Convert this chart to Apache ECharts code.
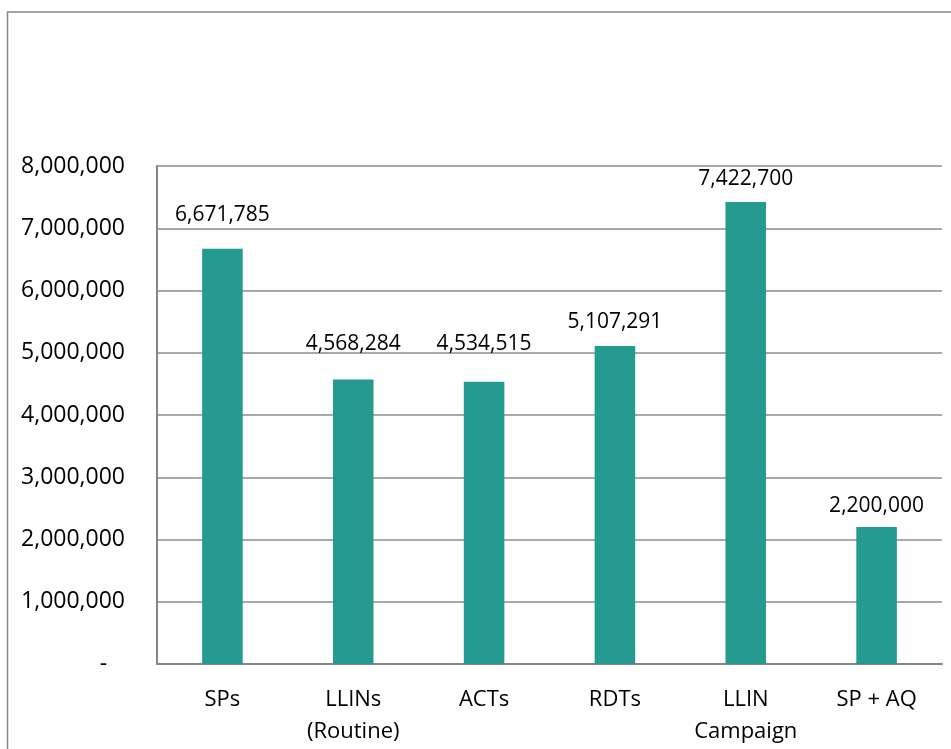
<!DOCTYPE html>
<html>
<head>
<meta charset="utf-8">
<script src="https://cdn.jsdelivr.net/npm/echarts@6/dist/echarts.min.js"></script>
<style>
  html, body { margin: 0; padding: 0; background: #fff; }
  #chart { width: 951px; height: 749px; }
</style>
</head>
<body>
<div id="chart"></div>
<script>
// data
var categories = ["SPs", "LLINs\n(Routine)", "ACTs", "RDTs", "LLIN\nCampaign", "SP + AQ"];
var quantities = [6671785, 4568284, 4534515, 5107291, 7422700, 2200000];
var yMax = 8000000;
var yStep = 1000000;
// label gap above each bar (px), the original labels were not all at the same height
var labelGap = [23, 25, 27, 14, 12, 11];

var fmt = function (v) {
  if (v === 0) return "-   ";
  return v.toLocaleString("en-US");
};

var myChart = echarts.init(document.getElementById("chart"), null, { renderer: "canvas" });
var option = {
  animation: false,
  backgroundColor: "#fff",
  textStyle: { fontFamily: "Open Sans" },
  // outer chart frame
  graphic: [
    {
      type: "rect",
      shape: { x: 7.5, y: 12, width: 1000, height: 800 },
      style: { fill: "none", stroke: "#888", lineWidth: 1.5 },
      silent: true
    }
  ],
  grid: { left: 157, right: 9, top: 166, bottom: 85, containLabel: false },
  xAxis: {
    type: "category",
    data: categories,
    axisTick: { show: false },
    axisLine: { lineStyle: { color: "#868686", width: 2 } },
    axisLabel: {
      color: "#000",
      fontSize: 22,
      lineHeight: 32,
      margin: 20,
      interval: 0
    }
  },
  yAxis: {
    type: "value",
    min: 0,
    max: yMax,
    interval: yStep,
    axisLine: { show: true, lineStyle: { color: "#868686", width: 2 } },
    axisTick: { show: false },
    splitLine: { lineStyle: { color: "#8c8c8c", width: 1.5 } },
    axisLabel: {
      color: "#000",
      fontSize: 23,
      margin: 32,
      formatter: fmt
    }
  },
  series: [
    {
      type: "bar",
      data: quantities.map(function (v, i) {
        return { value: v, label: { distance: labelGap[i] } };
      }),
      barWidth: "31%",
      itemStyle: { color: "#259a90" },
      label: {
        show: true,
        position: "top",
        color: "#000",
        fontSize: 21,
        formatter: function (p) { return fmt(p.value); }
      }
    }
  ]
};
myChart.setOption(option);
</script>
</body>
</html>
